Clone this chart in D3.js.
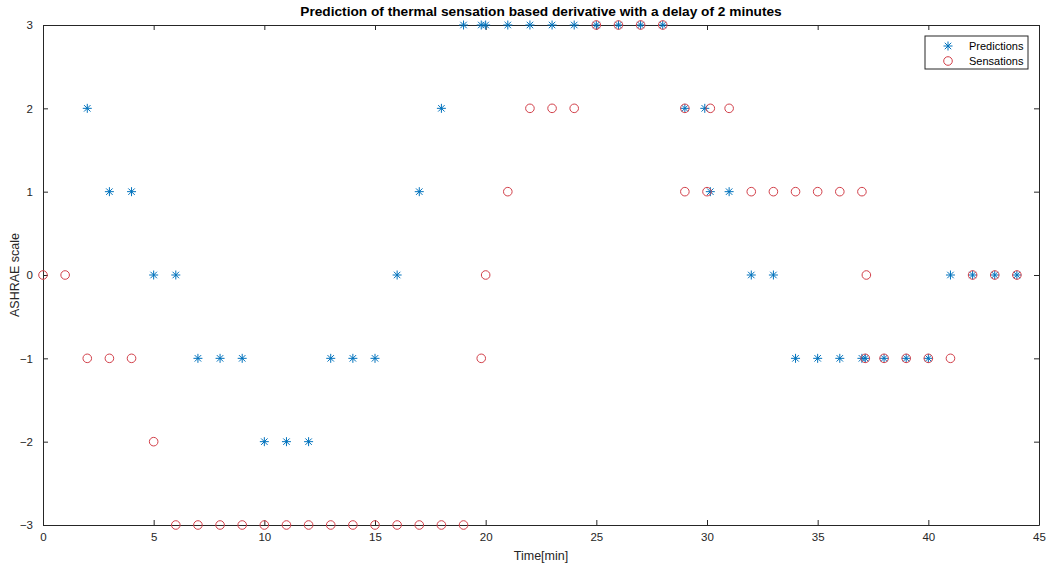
<!DOCTYPE html>
<html>
<head>
<meta charset="utf-8">
<script src="https://cdn.jsdelivr.net/npm/d3@7"></script>
<style>
  body { margin: 0; background: #fff; }
  svg { font-family: "Liberation Sans", Arial, sans-serif; }
</style>
</head>
<body>
<script>
// time (min) and ASHRAE value
var predTime  = [2, 3, 4, 5, 6, 7, 8, 9, 10, 11, 12, 13, 14, 15, 16, 17, 18, 19, 19.8, 20, 21, 22, 23, 24, 25, 26, 27, 28,
                 29, 29.9, 30.15, 31, 32, 33, 34, 35, 36, 37, 37.15, 38, 39, 40, 41, 42, 43, 44];
var predValue = [2, 1, 1, 0, 0, -1, -1, -1, -2, -2, -2, -1, -1, -1, 0, 1, 2, 3, 3, 3, 3, 3, 3, 3, 3, 3, 3, 3,
                 2, 2, 1, 1, 0, 0, -1, -1, -1, -1, -1, -1, -1, -1, 0, 0, 0, 0];
var sensTime  = [0, 1, 2, 3, 4, 5, 6, 7, 8, 9, 10, 11, 12, 13, 14, 15, 16, 17, 18, 19, 19.8, 20, 21, 22, 23, 24,
                 25, 26, 27, 28, 29, 29, 30, 30.15, 31, 32, 33, 34, 35, 36, 37, 37.2, 37.15, 38, 39, 40, 41, 42, 43, 44];
var sensValue = [0, 0, -1, -1, -1, -2, -3, -3, -3, -3, -3, -3, -3, -3, -3, -3, -3, -3, -3, -3, -1, 0, 1, 2, 2, 2,
                 3, 3, 3, 3, 2, 1, 1, 2, 2, 1, 1, 1, 1, 1, 1, 0, -1, -1, -1, -1, -1, 0, 0, 0];
var xTicks = [0, 5, 10, 15, 20, 25, 30, 35, 40, 45];
var yTicks = [-3, -2, -1, 0, 1, 2, 3];
var seriesNames = ["Predictions", "Sensations"];

var W = 1048, H = 566;
var margin = {top: 25, right: 9, bottom: 41, left: 43};
var width = W - margin.left - margin.right,
    height = H - margin.top - margin.bottom;

var blue = "#0072bd", red = "#d2404a", axisCol = "#262626";

var svg = d3.select("body").append("svg")
    .attr("width", W)
    .attr("height", H);

var g = svg.append("g")
    .attr("transform", "translate(" + margin.left + "," + margin.top + ")");

var x = d3.scaleLinear().domain([0, 45]).range([0, width]);
var y = d3.scaleLinear().domain([-3, 3]).range([height, 0]);

// box with inward ticks on all four sides
var axB = g.append("g").attr("transform", "translate(0," + height + ")")
    .call(d3.axisBottom(x).tickValues(xTicks).tickFormat(d3.format("d"))
        .tickSizeInner(-5).tickSizeOuter(0).tickPadding(9));
var axL = g.append("g")
    .call(d3.axisLeft(y).tickValues(yTicks).tickFormat(d3.format("d"))
        .tickSizeInner(-5).tickSizeOuter(0).tickPadding(10));
var axT = g.append("g")
    .call(d3.axisTop(x).tickValues(xTicks).tickSizeInner(-5).tickSizeOuter(0).tickFormat(""));
var axR = g.append("g").attr("transform", "translate(" + width + ",0)")
    .call(d3.axisRight(y).tickValues(yTicks).tickSizeInner(-5).tickSizeOuter(0).tickFormat(""));

[axB, axL, axT, axR].forEach(function (a) {
    a.select(".domain").attr("stroke", axisCol);
    a.selectAll(".tick line").attr("stroke", axisCol);
    a.selectAll(".tick text").attr("fill", axisCol).attr("font-size", 11.5)
        .attr("font-family", "Liberation Sans, Arial, sans-serif");
});
axB.selectAll(".tick text").attr("dy", "0.6em");

// star marker like matlab '*'
function starPath(cx, cy, r) {
    var d = r * 0.72;
    return "M" + (cx - r) + "," + cy + "H" + (cx + r) +
        "M" + cx + "," + (cy - r) + "V" + (cy + r) +
        "M" + (cx - d) + "," + (cy - d) + "L" + (cx + d) + "," + (cy + d) +
        "M" + (cx - d) + "," + (cy + d) + "L" + (cx + d) + "," + (cy - d);
}

var pred = predTime.map(function (t, i) { return {t: t, v: predValue[i]}; });
var sens = sensTime.map(function (t, i) { return {t: t, v: sensValue[i]}; });

g.append("g").selectAll("path")
    .data(pred)
    .enter().append("path")
    .attr("d", function (d) { return starPath(x(d.t), y(d.v), 4.5); })
    .attr("stroke", blue)
    .attr("stroke-width", 1)
    .attr("fill", "none");

g.append("g").selectAll("circle")
    .data(sens)
    .enter().append("circle")
    .attr("cx", function (d) { return x(d.t); })
    .attr("cy", function (d) { return y(d.v); })
    .attr("r", 4.3)
    .attr("stroke", red)
    .attr("stroke-width", 1)
    .attr("fill", "none");

// title and axis labels
svg.append("text")
    .attr("x", margin.left + width / 2)
    .attr("y", 16)
    .attr("text-anchor", "middle")
    .attr("font-size", 13.7)
    .attr("font-weight", "bold")
    .attr("fill", "#000")
    .text("Prediction of thermal sensation based derivative with a delay of 2 minutes");

svg.append("text")
    .attr("x", margin.left + width / 2)
    .attr("y", 560)
    .attr("text-anchor", "middle")
    .attr("font-size", 12.5)
    .attr("fill", axisCol)
    .text("Time[min]");

svg.append("text")
    .attr("transform", "translate(19," + (margin.top + height / 2) + ") rotate(-90)")
    .attr("text-anchor", "middle")
    .attr("font-size", 12.5)
    .attr("fill", axisCol)
    .text("ASHRAE scale");

// legend
var leg = svg.append("g").attr("transform", "translate(925,36)");
leg.append("rect")
    .attr("width", 103).attr("height", 33)
    .attr("fill", "#fff").attr("stroke", axisCol).attr("stroke-width", 1);
leg.append("path").attr("d", starPath(23, 10, 4.5))
    .attr("stroke", blue).attr("fill", "none");
leg.append("circle").attr("cx", 23).attr("cy", 25).attr("r", 4.3)
    .attr("stroke", red).attr("fill", "none");
leg.selectAll("text.lab")
    .data(seriesNames)
    .enter().append("text")
    .attr("class", "lab")
    .attr("x", 44)
    .attr("y", function (d, i) { return 14 + i * 15; })
    .attr("font-size", 11)
    .attr("fill", "#000")
    .text(function (d) { return d; });
</script>
</body>
</html>
